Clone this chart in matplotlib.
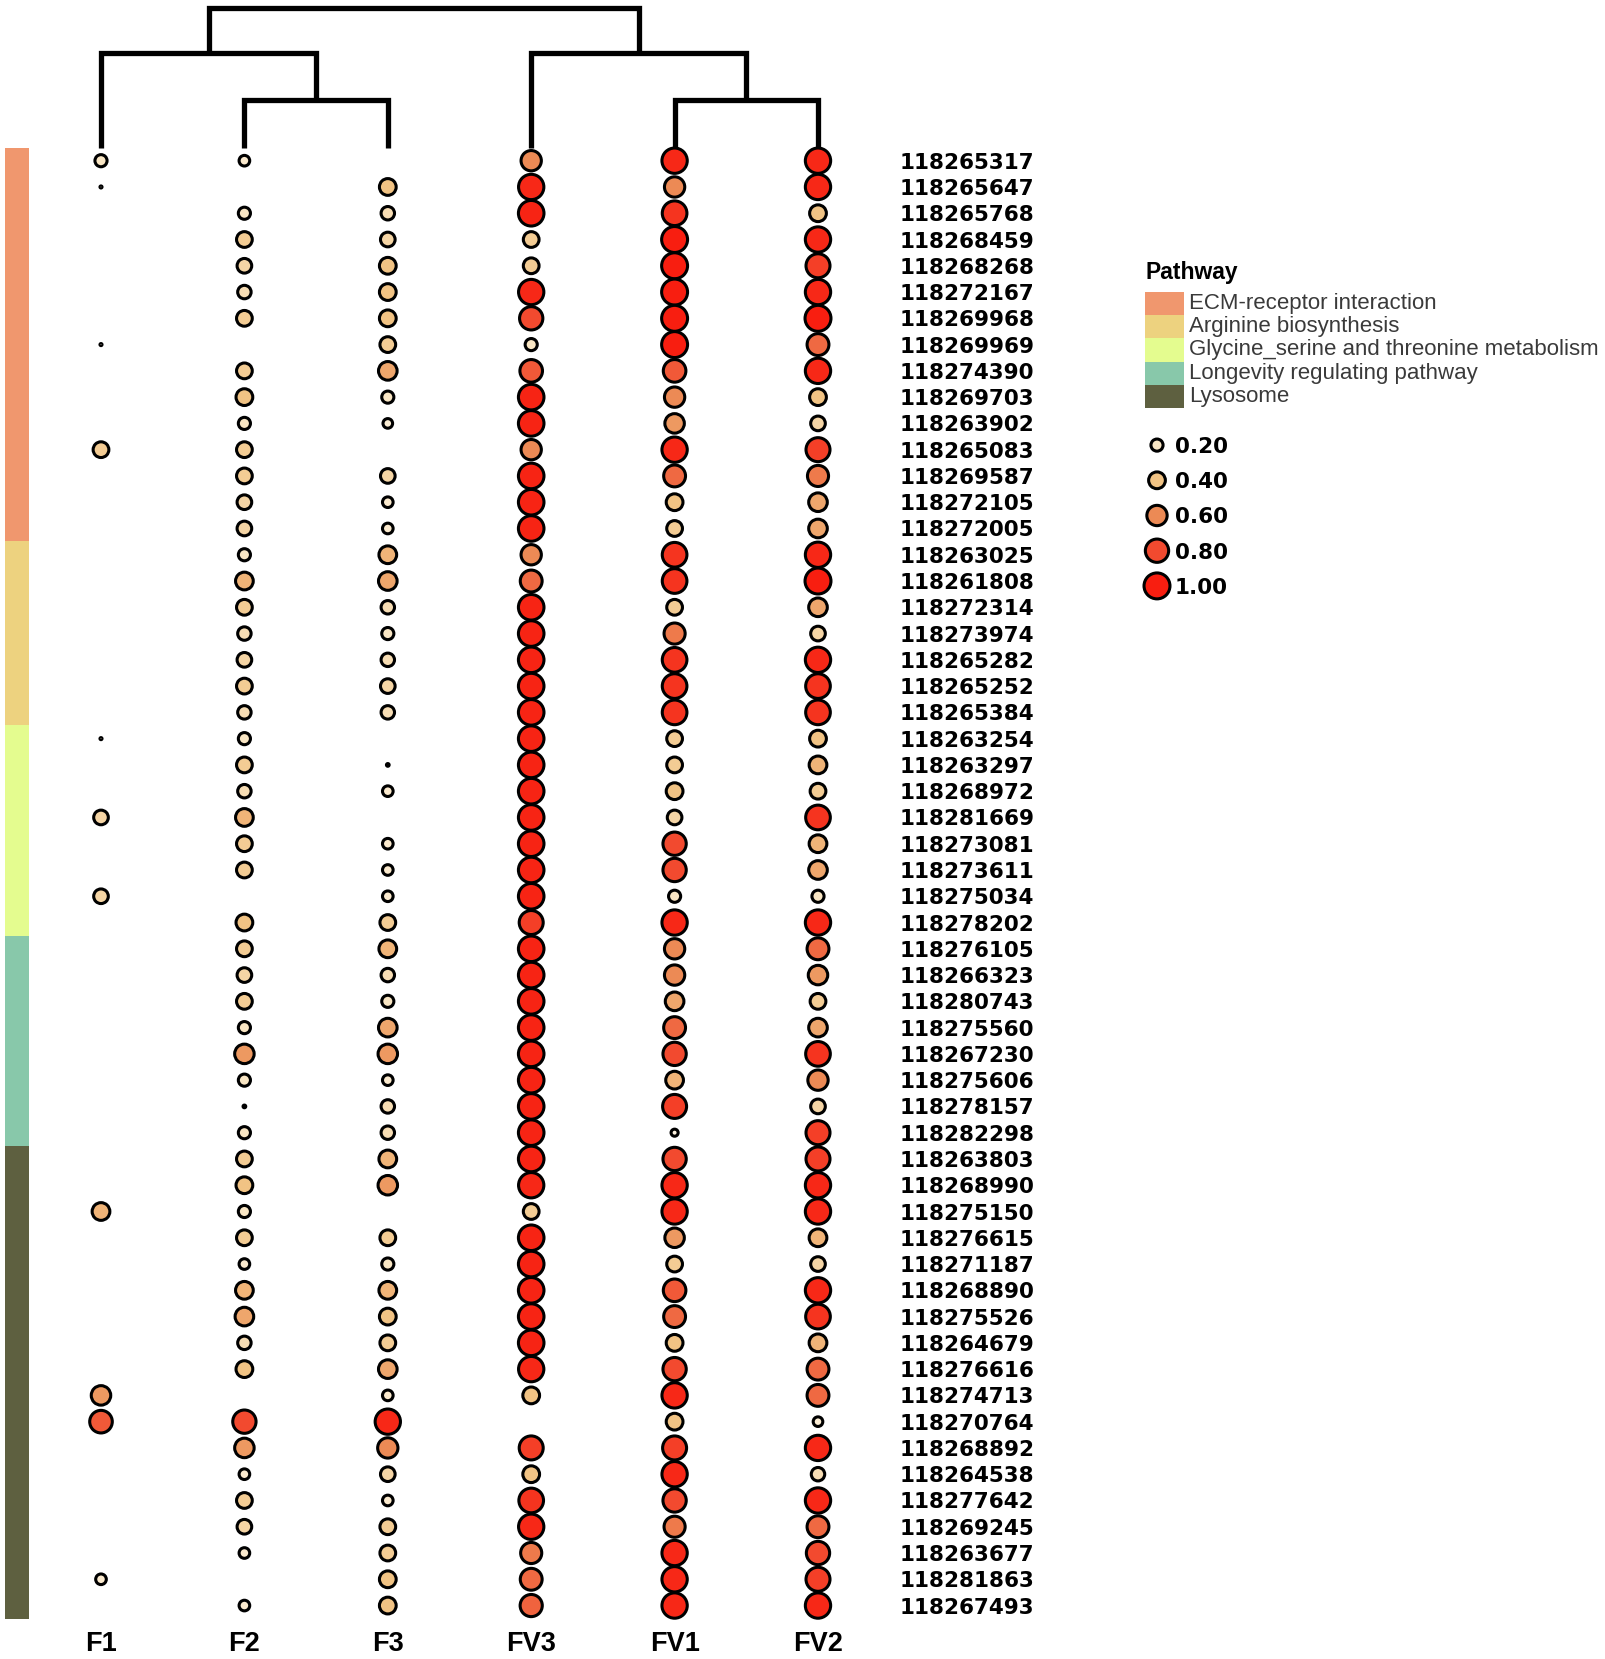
import matplotlib.pyplot as plt
import numpy as np
from matplotlib.colors import LinearSegmentedColormap, ListedColormap

nan = np.nan

genes = ['118265317', '118265647', '118265768', '118268459', '118268268', '118272167',
         '118269968', '118269969', '118274390', '118269703', '118263902', '118265083',
         '118269587', '118272105', '118272005', '118263025', '118261808', '118272314',
         '118273974', '118265282', '118265252', '118265384', '118263254', '118263297',
         '118268972', '118281669', '118273081', '118273611', '118275034', '118278202',
         '118276105', '118266323', '118280743', '118275560', '118267230', '118275606',
         '118278157', '118282298', '118263803', '118268990', '118275150', '118276615',
         '118271187', '118268890', '118275526', '118264679', '118276616', '118274713',
         '118270764', '118268892', '118264538', '118277642', '118269245', '118263677',
         '118281863', '118267493']

samples = ['F1', 'F2', 'F3', 'FV3', 'FV1', 'FV2']

F1 = [0.2, 0.002, nan, nan, nan, nan, nan, 0.002, nan, nan, nan, 0.35, nan, nan, nan,
      nan, nan, nan, nan, nan, nan, nan, 0.002, nan, nan, 0.3, nan, nan, 0.3, nan,
      nan, nan, nan, nan, nan, nan, nan, nan, nan, nan, 0.45, nan, nan, nan, nan,
      nan, nan, 0.55, 0.75, nan, nan, nan, nan, nan, 0.15, nan]
F2 = [0.15, nan, 0.2, 0.35, 0.3, 0.25, 0.35, nan, 0.35, 0.4, 0.2, 0.35, 0.35, 0.3, 0.3,
      0.2, 0.45, 0.35, 0.25, 0.3, 0.35, 0.25, 0.2, 0.35, 0.25, 0.45, 0.35, 0.35, nan, 0.4,
      0.35, 0.3, 0.35, 0.2, 0.55, 0.2, 0.005, 0.2, 0.35, 0.4, 0.2, 0.35, 0.15, 0.45, 0.5,
      0.25, 0.4, nan, 0.8, 0.55, 0.15, 0.35, 0.3, 0.15, nan, 0.15]
F3 = [nan, 0.4, 0.25, 0.3, 0.4, 0.4, 0.4, 0.35, 0.5, 0.2, 0.12, nan, 0.3, 0.15, 0.15,
      0.45, 0.5, 0.25, 0.2, 0.25, 0.3, 0.25, nan, 0.005, 0.15, nan, 0.15, 0.15, 0.15, 0.35,
      0.45, 0.25, 0.2, 0.5, 0.55, 0.15, 0.25, 0.25, 0.45, 0.55, nan, 0.35, 0.2, 0.45, 0.4,
      0.35, 0.5, 0.15, 0.95, 0.6, 0.3, 0.15, 0.35, 0.35, 0.4, 0.4]
FV3 = [0.6, 0.95, 0.97, 0.35, 0.35, 0.95, 0.8, 0.2, 0.75, 0.97, 0.97, 0.6, 0.97, 0.97, 0.97,
       0.6, 0.7, 0.97, 0.97, 0.97, 0.97, 0.97, 0.97, 0.97, 0.97, 0.97, 0.97, 0.97, 0.97, 0.85,
       0.97, 0.97, 0.97, 0.97, 0.97, 0.97, 0.97, 0.97, 0.97, 0.95, 0.35, 0.97, 0.97, 0.97, 0.97,
       0.97, 0.95, 0.4, nan, 0.85, 0.4, 0.9, 0.95, 0.65, 0.7, 0.72]
FV1 = [0.95, 0.6, 0.9, 1.0, 1.0, 1.0, 1.0, 1.0, 0.75, 0.6, 0.55, 0.95, 0.7, 0.4, 0.35,
       0.9, 0.9, 0.35, 0.65, 0.9, 0.9, 0.9, 0.35, 0.35, 0.4, 0.3, 0.8, 0.8, 0.2, 0.95,
       0.6, 0.6, 0.5, 0.7, 0.8, 0.45, 0.85, 0.06, 0.8, 0.95, 0.95, 0.55, 0.35, 0.75, 0.7,
       0.4, 0.8, 0.95, 0.4, 0.85, 0.95, 0.8, 0.65, 0.95, 0.95, 0.95]
FV2 = [0.95, 0.95, 0.4, 0.95, 0.85, 0.95, 1.0, 0.7, 0.95, 0.4, 0.3, 0.85, 0.65, 0.5, 0.5,
       0.95, 1.0, 0.5, 0.3, 0.95, 0.9, 0.9, 0.4, 0.45, 0.35, 0.9, 0.45, 0.5, 0.2, 0.95,
       0.7, 0.55, 0.35, 0.5, 0.9, 0.6, 0.3, 0.85, 0.85, 0.95, 0.95, 0.45, 0.3, 0.95, 0.9,
       0.45, 0.7, 0.7, 0.12, 0.95, 0.25, 0.95, 0.7, 0.8, 0.85, 0.95]

pathway_names = ['ECM-receptor interaction', 'Arginine biosynthesis',
                 'Glycine_serine and threonine metabolism', 'Longevity regulating pathway',
                 'Lysosome']
pathway_counts = [15, 7, 8, 8, 18]
pathway_colors = ['#F0976E', '#EDD27F', '#E4FC8F', '#88C8AA', '#5E6040']

# column clustering: (left, right, merge height)
merges = [('F2', 'F3', 1.0), ('FV1', 'FV2', 1.0), ('F1', 'F2+F3', 1.98),
          ('FV3', 'FV1+FV2', 1.98), ('F1+F2+F3', 'FV3+FV1+FV2', 2.92)]

legend_values = [0.2, 0.4, 0.6, 0.8, 1.0]

cmap = LinearSegmentedColormap.from_list(
    'dot', [(0.0, '#FFF7EA'), (0.2, '#F9E6C4'), (0.4, '#F1C384'), (0.6, '#EC8A55'),
            (0.8, '#F24A2F'), (1.0, '#F81E10')])

EDGE_LW = 2.2  # pt


def dot_size(v):
    v = np.asarray(v, dtype=float)
    d_px = 4 + 25 * np.sqrt(v) - EDGE_LW / 0.72
    return (np.clip(d_px, 0.5, None) * 0.72) ** 2


W, H = 1606, 1659
fig = plt.figure(figsize=(W / 100, H / 100), dpi=100)


def px_axes(x0, y0, x1, y1):
    return fig.add_axes([x0 / W, 1 - y1 / H, (x1 - x0) / W, (y1 - y0) / H])


n_rows = len(genes)
row_h = 26.27
top = 160.7 - row_h / 2
bottom = top + n_rows * row_h
col_w = 143.4
left = 101 - col_w / 2
right = left + len(samples) * col_w

# main dot plot
ax = px_axes(left, top, right, bottom)
data = [F1, F2, F3, FV3, FV1, FV2]
rows = np.arange(n_rows)
for j, vals in enumerate(data):
    vals = np.array(vals, dtype=float)
    ok = ~np.isnan(vals)
    ax.scatter(np.full(ok.sum(), j), rows[ok], s=dot_size(vals[ok]),
               c=cmap(vals[ok]), edgecolors='black', linewidths=EDGE_LW,
               clip_on=False, zorder=3)
ax.set_xlim(-0.5, len(samples) - 0.5)
ax.set_ylim(n_rows - 0.5, -0.5)
for s in ax.spines.values():
    s.set_visible(False)
ax.set_xticks(range(len(samples)))
ax.set_xticklabels(samples, fontfamily='Liberation Sans', fontweight='bold', fontsize=19.5)
ax.set_yticks(rows)
ax.set_yticklabels(genes, fontfamily='DejaVu Sans', fontweight='bold', fontsize=15.5)
ax.yaxis.tick_right()
ax.tick_params(axis='y', length=0, pad=7.4)
ax.tick_params(axis='x', length=0, pad=9)

# pathway colour bar
groups = np.repeat(np.arange(len(pathway_names)), pathway_counts)
pal = ListedColormap(pathway_colors)
axb = px_axes(5, top, 29, bottom)
axb.imshow(groups[:, None], cmap=pal, vmin=-0.5, vmax=len(pathway_names) - 0.5,
           aspect='auto', interpolation='nearest')
axb.axis('off')

# dendrogram
axd = px_axes(left, 8, right, 148)
pos = {s: (i, 0.0) for i, s in enumerate(samples)}
for a, b, h in merges:
    xa, ya = pos[a]
    xb, yb = pos[b]
    axd.plot([xa, xa, xb, xb], [ya, h, h, yb], color='black', lw=3.8,
             solid_joinstyle='miter', solid_capstyle='butt', clip_on=False)
    pos[a + '+' + b] = ((xa + xb) / 2, h)
axd.set_xlim(-0.5, len(samples) - 0.5)
axd.set_ylim(0, merges[-1][2])
axd.axis('off')

# pathway legend
axl = px_axes(1145, 292, 1184, 408)
axl.imshow(np.arange(len(pathway_names))[:, None], cmap=pal,
           vmin=-0.5, vmax=len(pathway_names) - 0.5, aspect='auto', interpolation='nearest')
axl.axis('off')
tr = axl.get_yaxis_transform()
for i, name in enumerate(pathway_names):
    axl.text(1.12, i, name, transform=tr, va='center', ha='left', fontsize=16,
             fontfamily='Liberation Sans', color='#3A3A3A', clip_on=False)
axl.text(0.02, -1.32, 'Pathway', transform=tr, va='center', ha='left', fontsize=16.5,
         fontfamily='Liberation Sans', fontweight='bold', color='black', clip_on=False)

# size legend
axs = px_axes(1145, 427.5, 1169, 603.5)
lv = np.array(legend_values)
axs.scatter(np.zeros(len(lv)), np.arange(len(lv)), s=dot_size(lv), c=cmap(lv),
            edgecolors='black', linewidths=EDGE_LW, clip_on=False)
axs.set_xlim(-0.5, 0.5)
axs.set_ylim(len(lv) - 0.5, -0.5)
axs.axis('off')
trs = axs.get_yaxis_transform()
for i, v in enumerate(legend_values):
    axs.text(1.25, i, f'{v:.2f}', transform=trs, va='center_baseline', ha='left',
             fontsize=15.5, fontfamily='DejaVu Sans', fontweight='bold', clip_on=False)

fig.savefig('out.png', dpi=100)
